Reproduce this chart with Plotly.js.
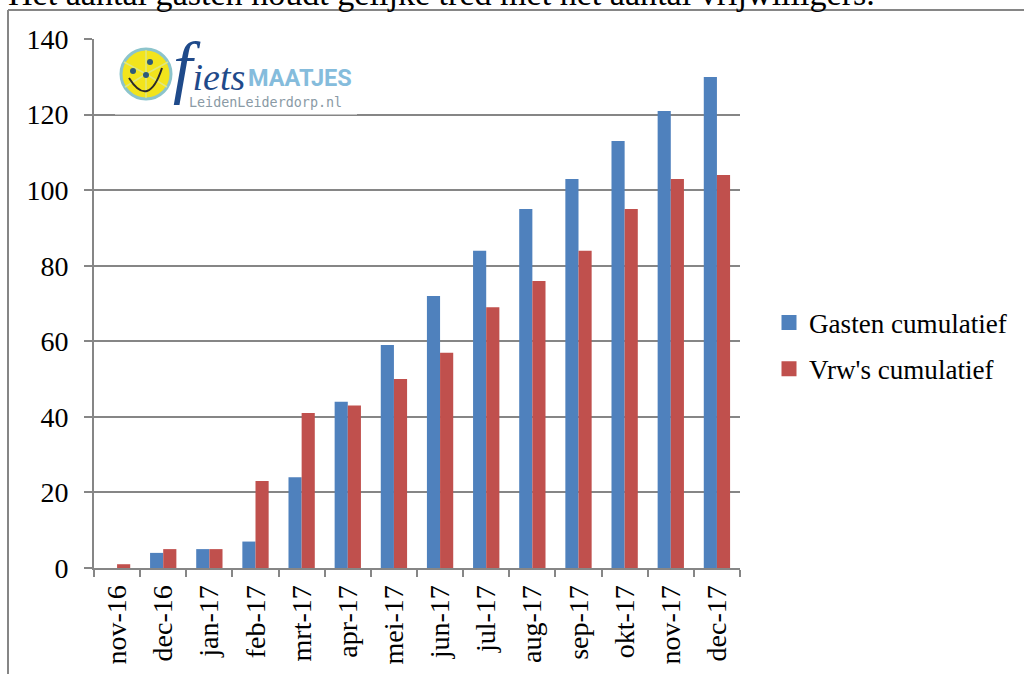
<!DOCTYPE html>
<html><head><meta charset="utf-8">
<script src="https://cdn.plot.ly/plotly-3.0.1.min.js"></script>
<style>html,body{margin:0;padding:0;background:#fff}#c{width:1024px;height:674px}</style>
</head><body><div id="c"></div>
<script>
const months = ['nov-16','dec-16','jan-17','feb-17','mrt-17','apr-17','mei-17','jun-17','jul-17','aug-17','sep-17','okt-17','nov-17','dec-17'];
const gasten = [0,4,5,7,24,44,59,72,84,95,103,113,121,130];
const vrw = [1,5,5,23,41,43,50,57,69,76,84,95,103,104];
const headline = 'Het aantal gasten houdt gelijke tred met het aantal vrijwilligers.';
const seriesNames = ['Gasten cumulatief', "Vrw's cumulatief"];
const colors = ['#4f81bd','#c0504d'];

const W=1024,H=674,L=94,R=740,T=39,B=568;
const fx=p=>(p-L)/(R-L), fy=p=>(B-p)/(B-T);
const serif='"Liberation Serif", serif';
const GREY='#868686';
const line=(x0,y0,x1,y1,c,w)=>({type:'line',xref:'paper',yref:'paper',x0:fx(x0),x1:fx(x1),y0:fy(y0),y1:fy(y1),line:{color:c,width:w},layer:'above'});
const circ=(cx,cy,r,fill,lc,lw)=>({type:'circle',xref:'paper',yref:'paper',x0:fx(cx-r),x1:fx(cx+r),y0:fy(cy+r),y1:fy(cy-r),fillcolor:fill,line:{color:lc,width:lw},layer:'above'});
const cx=146, cy=74;
const spokes=[[146,50],[168,62],[167,87],[146,98],[125,87],[124,62]]
  .map(s=>line(cx,cy,s[0],s[1],'#dfe77f',1.5));
const smilePath='M '+fx(129)+' '+fy(78)+' Q '+fx(148.5)+' '+fy(109)+' '+fx(162)+' '+fy(68);

const shapes=[
  line(8,10,1024,10,GREY,2),
  line(8,10,8,674,GREY,2),
  {type:'rect',xref:'paper',yref:'paper',x0:fx(115),x1:fx(357),y0:fy(114.6),y1:fy(41),fillcolor:'#fff',line:{width:0},layer:'above'},
  circ(cx,cy,25,'#f2e41c','#8cc4cc',3),
  ...spokes,
  circ(133,71,3,'#2d5a7a','#2d5a7a',0),
  circ(150,62,3,'#2d5a7a','#2d5a7a',0),
  circ(146,75,3,'#2d5a7a','#2d5a7a',0),
  {type:'path',xref:'paper',yref:'paper',path:smilePath,line:{color:'#2a2a2a',width:2},layer:'above'}
];

const annotations=[
 {text:headline,xref:'paper',yref:'paper',x:fx(6),y:fy(14.5),xanchor:'left',yanchor:'bottom',showarrow:false,font:{family:serif,size:34.1,color:'#000'}},
 {text:"<i><span style='font-size:70px'>f</span>iets</i>",xref:'paper',yref:'paper',x:fx(171),y:fy(107),xanchor:'left',yanchor:'bottom',showarrow:false,font:{family:serif,size:38,color:'#1f4a8a'}},
 {text:'<b>MAATJES</b>',xref:'paper',yref:'paper',x:fx(246),y:fy(78),xanchor:'left',yanchor:'middle',showarrow:false,font:{family:'Roboto, sans-serif',size:23.5,color:'#85bcdc'}},
 {text:'LeidenLeiderdorp.nl',xref:'paper',yref:'paper',x:fx(187),y:fy(102),xanchor:'left',yanchor:'middle',showarrow:false,font:{family:'"DejaVu Sans Mono", monospace',size:13.4,color:'#8a9aa5'}}
];

const data=[
 {type:'bar',name:seriesNames[0],x:months,y:gasten,marker:{color:colors[0]},showlegend:false},
 {type:'bar',name:seriesNames[1],x:months,y:vrw,marker:{color:colors[1]},showlegend:false},
 {type:'scatter',mode:'markers',name:seriesNames[0],x:[null],y:[null],legendgroup:'a',marker:{symbol:'square',size:15,color:colors[0]}},
 {type:'scatter',mode:'markers',name:seriesNames[1],x:[null],y:[null],legendgroup:'b',marker:{symbol:'square',size:15,color:colors[1]}}
];
const layout={
 width:W,height:H,paper_bgcolor:'#fff',plot_bgcolor:'#fff',showlegend:true,
 margin:{l:L,r:W-R,t:T,b:H-B,pad:0},
 barmode:'group',bargap:0.43,bargroupgap:0,
 font:{family:serif,size:27,color:'#000'},
 xaxis:{type:'category',categoryorder:'array',categoryarray:months,range:[-0.5,13.5],tickangle:-90,tickson:'boundaries',ticks:'outside',ticklen:7,tickcolor:GREY,tickwidth:2,showline:true,linecolor:GREY,linewidth:2,showgrid:false,tickfont:{family:serif,size:28,color:'#000'},ticklabelstandoff:4,automargin:false},
 yaxis:{range:[0,140.03],dtick:20,ticks:'outside',ticklen:8,tickcolor:GREY,tickwidth:2,showline:true,linecolor:GREY,linewidth:2,gridcolor:GREY,gridwidth:2,zeroline:false,tickfont:{family:serif,size:28,color:'#000'},ticklabelstandoff:10,automargin:false},
 legend:{xref:'container',yref:'container',x:769/W,y:1-346/H,xanchor:'left',yanchor:'middle',font:{family:serif,size:27.1,color:'#000'},itemwidth:30,tracegroupgap:8,traceorder:'grouped',bgcolor:'rgba(0,0,0,0)'},
 shapes,annotations
};
Plotly.newPlot('c',data,layout,{displayModeBar:false,staticPlot:true});
</script></body></html>
